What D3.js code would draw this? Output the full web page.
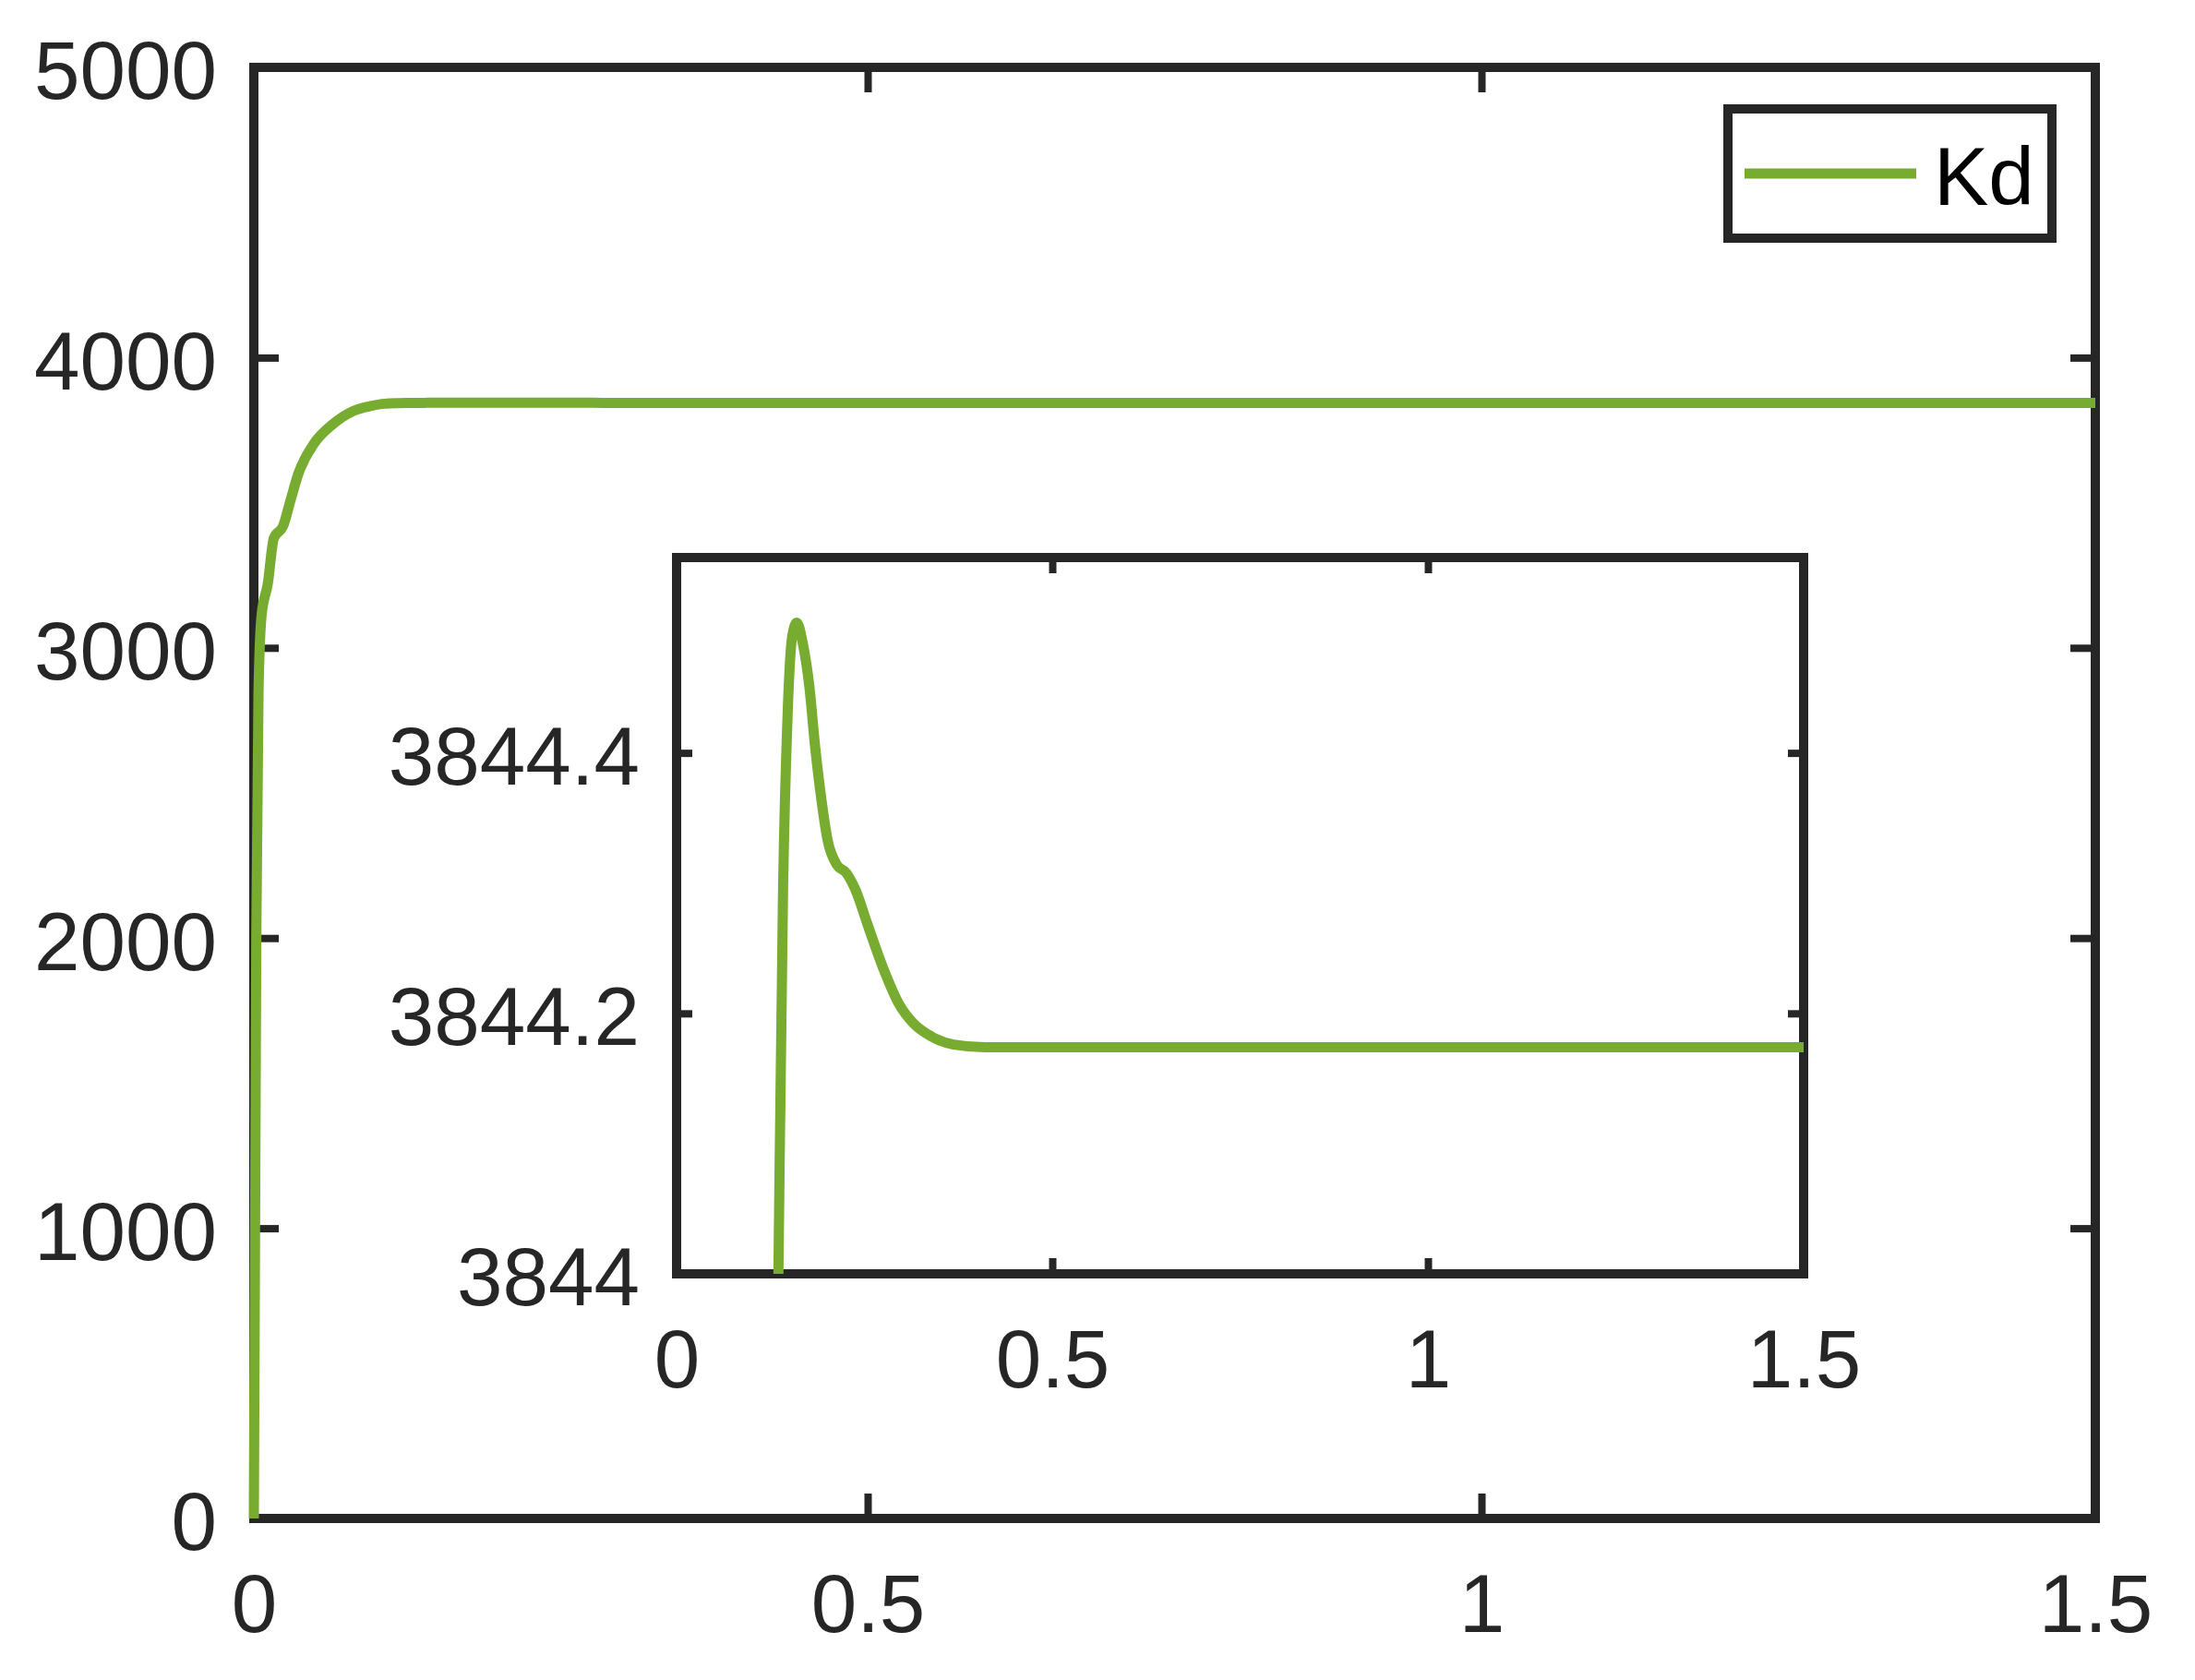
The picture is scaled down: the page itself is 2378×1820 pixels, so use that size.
<!DOCTYPE html>
<html><head><meta charset="utf-8">
<script src="https://cdn.jsdelivr.net/npm/d3@7"></script>
<style>body{margin:0;background:#fff}</style>
</head><body>
<svg id="c" width="2378" height="1820"></svg>
<script>
// ---- data ----
const timeS = [0, 0.002, 0.0038, 0.0063, 0.0113, 0.0163, 0.0238, 0.030, 0.0363, 0.0489, 0.0639, 0.0815, 0.095, 0.1065, 0.118, 0.128, 0.1355, 0.1417, 0.1478, 0.154, 0.160, 0.168, 0.1765, 0.1847, 0.193, 0.201, 0.2134, 0.2257, 0.238, 0.2543, 0.2748, 0.2953, 0.3157, 0.340, 0.3686, 0.41, 0.5, 1.0, 1.5];
const kdValues = [0, 2000, 2847, 3112, 3219, 3378, 3419, 3510, 3600, 3703, 3769, 3817, 3833, 3841, 3843.0, 3843.6, 3844.0, 3844.295, 3844.43, 3844.49, 3844.50, 3844.484, 3844.452, 3844.403, 3844.363, 3844.333, 3844.314, 3844.308, 3844.295, 3844.268, 3844.235, 3844.208, 3844.192, 3844.182, 3844.176, 3844.174, 3844.174, 3844.174, 3844.174];
const seriesName = "Kd";
const mainXTicks = [0, 0.5, 1, 1.5];
const mainXLabels = ["0", "0.5", "1", "1.5"];
const mainYTicks = [0, 1000, 2000, 3000, 4000, 5000];
const mainYLabels = ["0", "1000", "2000", "3000", "4000", "5000"];
const insetXTicks = [0, 0.5, 1, 1.5];
const insetXLabels = ["0", "0.5", "1", "1.5"];
const insetYTicks = [3844, 3844.2, 3844.4];
const insetYLabels = ["3844", "3844.2", "3844.4"];
const mainYDomain = [0, 5000];
const insetYDomain = [3844, 3844.55];
const xDomain = [0, 1.5];

// ---- styles ----
const GREEN = "#77AC30", INK = "#262626", FONT = "'Liberation Sans', Arial, Helvetica, sans-serif";
const FS = 89;

const data = timeS.map((t, i) => ({t, v: kdValues[i]}));
const svg = d3.select("#c");

function panel(box, yDomain, xTicks, xLabels, yTicks, yLabels, tickLen, clipId) {
  const g = svg.append("g");
  const x = d3.scaleLinear().domain(xDomain).range([box.l, box.r]);
  const y = d3.scaleLinear().domain(yDomain).range([box.b, box.t]);
  g.append("rect").attr("x", box.l).attr("y", box.t).attr("width", box.r - box.l).attr("height", box.b - box.t)
    .attr("fill", "#fff");
  const style = sel => {
    sel.select(".domain").remove();
    sel.selectAll(".tick line").attr("stroke", INK).attr("stroke-width", 8);
    sel.selectAll(".tick text").attr("fill", INK).attr("font-family", FONT).attr("font-size", FS);
  };
  g.append("g").attr("transform", `translate(0,${box.b})`)
    .call(d3.axisBottom(x).tickValues(xTicks).tickFormat((d, i) => xLabels[i]).tickSize(-tickLen).tickPadding(60))
    .call(style).selectAll(".tick text").attr("dy", "0.71em");
  g.append("g").attr("transform", `translate(0,${box.t})`)
    .call(d3.axisTop(x).tickValues(xTicks).tickFormat("").tickSize(-tickLen)).call(style);
  g.append("g").attr("transform", `translate(${box.l},0)`)
    .call(d3.axisLeft(y).tickValues(yTicks).tickFormat((d, i) => yLabels[i]).tickSize(-tickLen).tickPadding(40))
    .call(style).selectAll(".tick text").attr("dy", "0.38em");
  g.append("g").attr("transform", `translate(${box.r},0)`)
    .call(d3.axisRight(y).tickValues(yTicks).tickFormat("").tickSize(-tickLen)).call(style);
  g.append("rect").attr("x", box.l).attr("y", box.t).attr("width", box.r - box.l).attr("height", box.b - box.t)
    .attr("fill", "none").attr("stroke", INK).attr("stroke-width", 10);
  const line = d3.line().x(d => x(d.t)).y(d => y(d.v)).curve(d3.curveMonotoneX);
  let lg = g;
  if (clipId) {
    svg.append("clipPath").attr("id", clipId).append("rect")
      .attr("x", box.l).attr("y", box.t).attr("width", box.r - box.l).attr("height", box.b - box.t);
    lg = g.append("g").attr("clip-path", `url(#${clipId})`);
  }
  lg.append("path").datum(data).attr("d", line).attr("fill", "none").attr("stroke", GREEN)
    .attr("stroke-width", 11).attr("stroke-linejoin", "round");
  return g;
}

// main axes
panel({l: 275, r: 2270, t: 73, b: 1645}, mainYDomain, mainXTicks, mainXLabels, mainYTicks, mainYLabels, 27, null);

// legend
const lg = svg.append("g");
lg.append("rect").attr("x", 1872).attr("y", 118).attr("width", 351).attr("height", 140)
  .attr("fill", "#fff").attr("stroke", INK).attr("stroke-width", 10);
lg.append("line").attr("x1", 1890).attr("x2", 2076).attr("y1", 188).attr("y2", 188)
  .attr("stroke", GREEN).attr("stroke-width", 11);
lg.append("text").attr("x", 2095).attr("y", 222).attr("font-family", FONT).attr("font-size", FS)
  .attr("fill", "#000").text(seriesName);

// inset axes
panel({l: 733, r: 1954, t: 604, b: 1380}, insetYDomain, insetXTicks, insetXLabels, insetYTicks, insetYLabels, 17, "insetClip");
</script>
</body></html>
